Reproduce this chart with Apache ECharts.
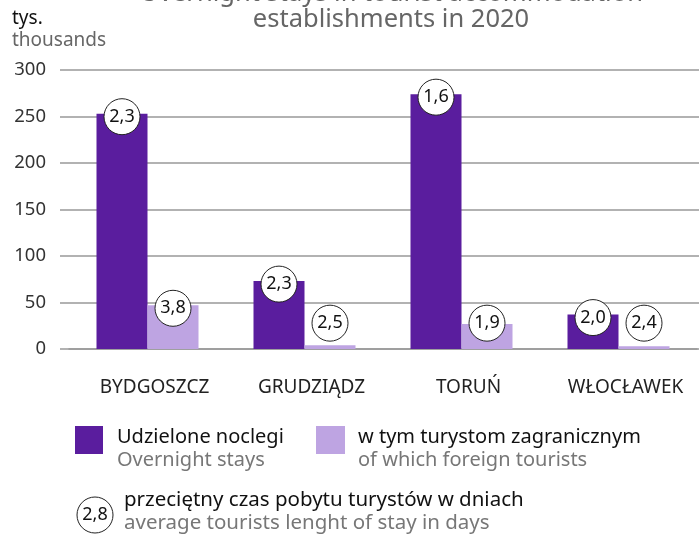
<!DOCTYPE html>
<html><head><meta charset="utf-8">
<script src="https://cdn.jsdelivr.net/npm/echarts@6/dist/echarts.min.js"></script>
<style>html,body{margin:0;padding:0;background:#fff}#c{width:699px;height:534px}</style>
</head><body><div id="c"></div>
<script>
const categories = ['BYDGOSZCZ', 'GRUDZIĄDZ', 'TORUŃ', 'WŁOCŁAWEK'];
const overnightStays = [253, 73, 274, 37];
const foreignStays = [47, 4, 27, 3];
const stayAll = ['2,3', '2,3', '1,6', '2,0'];
const stayForeign = ['3,8', '2,5', '1,9', '2,4'];
const yTicks = [0, 50, 100, 150, 200, 250, 300];

const FONT = 'Noto Sans';
const DARK = '#5a1d9e', LIGHT = '#bea4e2';
const LABEL_FLOOR = 31;

const chart = echarts.init(document.getElementById('c'), null, {renderer: 'canvas'});

function circleSeries(vals, labels, dx) {
  return {
    type: 'scatter', xAxisIndex: 1, yAxisIndex: 1, z: 5,
    symbol: 'circle', symbolSize: 36, symbolOffset: [dx, 3],
    itemStyle: {color: '#fff', borderColor: '#222', borderWidth: 1, opacity: 1},
    label: {show: true, position: 'inside', formatter: p => labels[p.dataIndex],
      color: '#111', fontSize: 18, fontFamily: FONT},
    data: vals.map(v => Math.max(v, LABEL_FLOOR)),
    silent: true
  };
}

function txt(x, y, s, color, size, align) {
  return {type: 'text', x: x, y: y, style: {text: s, fill: color, font: size + 'px "' + FONT + '"',
    textAlign: align || 'left', textVerticalAlign: 'middle'}};
}

chart.setOption({
  animation: false,
  textStyle: {fontFamily: FONT},
  grid: [
    {left: 60, right: 0, top: 70, bottom: 185},
    {left: 69, right: 2, top: 70, bottom: 185}
  ],
  xAxis: [
    {gridIndex: 0, type: 'category', data: categories, show: false},
    {gridIndex: 1, type: 'category', data: categories,
      axisLine: {show: true, lineStyle: {color: '#999', width: 1.5}}, axisTick: {show: false},
      axisLabel: {color: '#222', fontSize: 19, margin: 29, fontFamily: FONT, padding: [0, 0, 0, 14]}}
  ],
  yAxis: [
    {gridIndex: 0, type: 'value', min: 0, max: 300, interval: 50,
      axisLine: {show: false}, axisTick: {show: false},
      axisLabel: {color: '#333', fontSize: 18.5, margin: 14, fontFamily: FONT,
        formatter: v => yTicks.includes(v) ? String(v) : ''},
      splitLine: {lineStyle: {color: '#999', width: 1.5}}},
    {gridIndex: 1, type: 'value', min: 0, max: 300, interval: 50, show: false, splitLine: {show: false}}
  ],
  series: [
    {type: 'bar', xAxisIndex: 1, yAxisIndex: 1, data: overnightStays, barWidth: 51, barGap: '0%',
      itemStyle: {color: DARK}, silent: true},
    {type: 'bar', xAxisIndex: 1, yAxisIndex: 1, data: foreignStays, barWidth: 51, barGap: '0%',
      itemStyle: {color: LIGHT}, silent: true},
    circleSeries(overnightStays, stayAll, -25.5),
    circleSeries(foreignStays, stayForeign, 25.5)
  ],
  graphic: [
    {type: 'text', x: 391, y: -19, style: {text: 'Overnight stays in tourist accommodation\nestablishments in 2020',
      fill: '#666', font: '25.5px "' + FONT + '"', textAlign: 'center', lineHeight: 26}},
    txt(12, 19, 'tys.', '#111', 19),
    txt(12, 41, 'thousands', '#666', 19),
    {type: 'rect', shape: {x: 75, y: 426, width: 28, height: 28}, style: {fill: DARK}},
    txt(117, 437, 'Udzielone noclegi', '#111', 20),
    txt(117, 460, 'Overnight stays', '#777', 20),
    {type: 'rect', shape: {x: 316, y: 426, width: 29, height: 28}, style: {fill: LIGHT}},
    txt(358, 437, 'w tym turystom zagranicznym', '#111', 20),
    txt(358, 460, 'of which foreign tourists', '#777', 20),
    {type: 'circle', shape: {cx: 95, cy: 515, r: 18}, style: {fill: '#fff', stroke: '#222', lineWidth: 1}},
    txt(95, 515, '2,8', '#111', 18, 'center'),
    txt(124, 500, 'przeciętny czas pobytu turystów w dniach', '#111', 20.5),
    txt(124, 523, 'average tourists lenght of stay in days', '#777', 20.5)
  ]
});
</script></body></html>
